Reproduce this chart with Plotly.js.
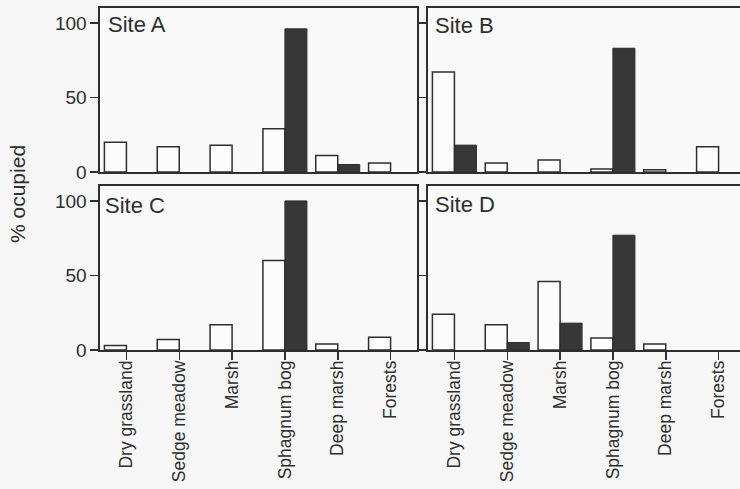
<!DOCTYPE html>
<html>
<head>
<meta charset="utf-8">
<script src="https://cdn.plot.ly/plotly-3.0.1.min.js"></script>
<style>
html,body{margin:0;padding:0;background:#f6f6f6;overflow:hidden;}
#chart{width:740px;height:489px;}
</style>
</head>
<body>
<div id="chart"></div>
<script>
// Categories (habitats)
const habitats = ["Dry grassland", "Sedge meadow", "Marsh", "Sphagnum bog", "Deep marsh", "Forests"];
const siteNames = ["Site A", "Site B", "Site C", "Site D"];
const yTickVals = [0, 50, 100];
const yTickText = ["0", "50", "100"];

// % occupied, open bars (first series) and filled bars (second series), per site
const siteA_open   = [20, 17, 18, 29, 11, 6];
const siteA_filled = [0, 0, 0, 96, 5, 0];
const siteB_open   = [67, 6, 8, 2, 1.5, 17];
const siteB_filled = [18, 0, 0, 83, 0, 0];
const siteC_open   = [3, 7, 17, 60, 4, 8.5];
const siteC_filled = [0, 0, 0, 100, 0, 0];
const siteD_open   = [24, 17, 46, 8, 4, 0];
const siteD_filled = [0, 5, 18, 77, 0, 0];

const openSeries = [siteA_open, siteB_open, siteC_open, siteD_open];
const filledSeries = [siteA_filled, siteB_filled, siteC_filled, siteD_filled];

const W = 740, H = 489;
const px = v => v / W;
const py = v => 1 - v / H;

const ink = "#2e2e2e";
const font = "Liberation Sans, Arial, sans-serif";
const noZero = arr => arr.map(v => (v === 0 ? null : v));

const traces = [];
const axSuffix = ["", "2", "3", "4"];
for (let i = 0; i < 4; i++) {
  const xa = "x" + axSuffix[i], ya = "y" + axSuffix[i];
  traces.push({
    type: "bar", x: habitats, y: noZero(openSeries[i]), xaxis: xa, yaxis: ya,
    marker: {color: "#fcfcfc", line: {color: ink, width: 1.5}},
    showlegend: false, hoverinfo: "x+y"
  });
  traces.push({
    type: "bar", x: habitats, y: noZero(filledSeries[i]), xaxis: xa, yaxis: ya,
    marker: {color: "#373737", line: {color: "#2a2a2a", width: 1}},
    showlegend: false, hoverinfo: "x+y"
  });
}

const leftX = [px(100), px(417)];
const rightX = [px(428), 1];
const topY = [py(172), py(8)];
const botY = [py(350), py(186)];
const catPx = 317 / 6; // px per category

function xax(domain, bottom) {
  const span = (domain[1] - domain[0]) * W / catPx;
  return {
    domain: domain,
    range: [-0.5, -0.5 + span],
    showline: true, linecolor: ink, linewidth: 1.6,
    mirror: true,
    showgrid: false, zeroline: false,
    ticks: bottom ? "outside" : "",
    ticklen: 8, tickwidth: 1.5, tickcolor: ink,
    showticklabels: bottom,
    tickangle: -90,
    ticklabelstandoff: -6,
    tickfont: {family: font, size: 17.5, color: ink},
    fixedrange: true
  };
}
function yax(domain, anchor, labels, rightPanel) {
  return {
    domain: domain, anchor: anchor,
    range: [0, 110],
    tickvals: yTickVals, ticktext: yTickText,
    ticks: "outside", ticklen: 8, tickwidth: 1.5, tickcolor: ink,
    showticklabels: labels,
    tickfont: {family: font, size: 19, color: ink},
    showline: true, linecolor: ink, linewidth: 1.6,
    mirror: !rightPanel,
    showgrid: false, zeroline: false,
    fixedrange: true
  };
}

const siteFont = {family: font, size: 22, color: ink};
const layout = {
  width: W, height: H,
  margin: {l: 0, r: 0, t: 0, b: 0},
  paper_bgcolor: "#f6f6f6",
  plot_bgcolor: "#f9f9f9",
  barmode: "group",
  bargap: 0.167,
  bargroupgap: 0,
  showlegend: false,
  font: {family: font, color: ink},
  xaxis:  Object.assign(xax(leftX, false), {anchor: "y"}),
  yaxis:  yax(topY, "x", true, false),
  xaxis2: Object.assign(xax(rightX, false), {anchor: "y2"}),
  yaxis2: yax(topY, "x2", false, true),
  xaxis3: Object.assign(xax(leftX, true), {anchor: "y3"}),
  yaxis3: yax(botY, "x3", true, false),
  xaxis4: Object.assign(xax(rightX, true), {anchor: "y4"}),
  yaxis4: yax(botY, "x4", false, true),
  annotations: [
    {text: siteNames[0], xref: "paper", yref: "paper", x: px(106), y: py(24), xanchor: "left", yanchor: "middle", showarrow: false, font: siteFont},
    {text: siteNames[1], xref: "paper", yref: "paper", x: px(433), y: py(26), xanchor: "left", yanchor: "middle", showarrow: false, font: siteFont},
    {text: siteNames[2], xref: "paper", yref: "paper", x: px(103), y: py(205), xanchor: "left", yanchor: "middle", showarrow: false, font: siteFont},
    {text: siteNames[3], xref: "paper", yref: "paper", x: px(433), y: py(204), xanchor: "left", yanchor: "middle", showarrow: false, font: siteFont},
    {text: "% ocupied", xref: "paper", yref: "paper", x: px(17), y: py(194), xanchor: "center", yanchor: "middle", textangle: -90, showarrow: false, font: {family: font, size: 21, color: ink}}
  ]
};

Plotly.newPlot("chart", traces, layout, {displayModeBar: false, staticPlot: true});
</script>
</body>
</html>
